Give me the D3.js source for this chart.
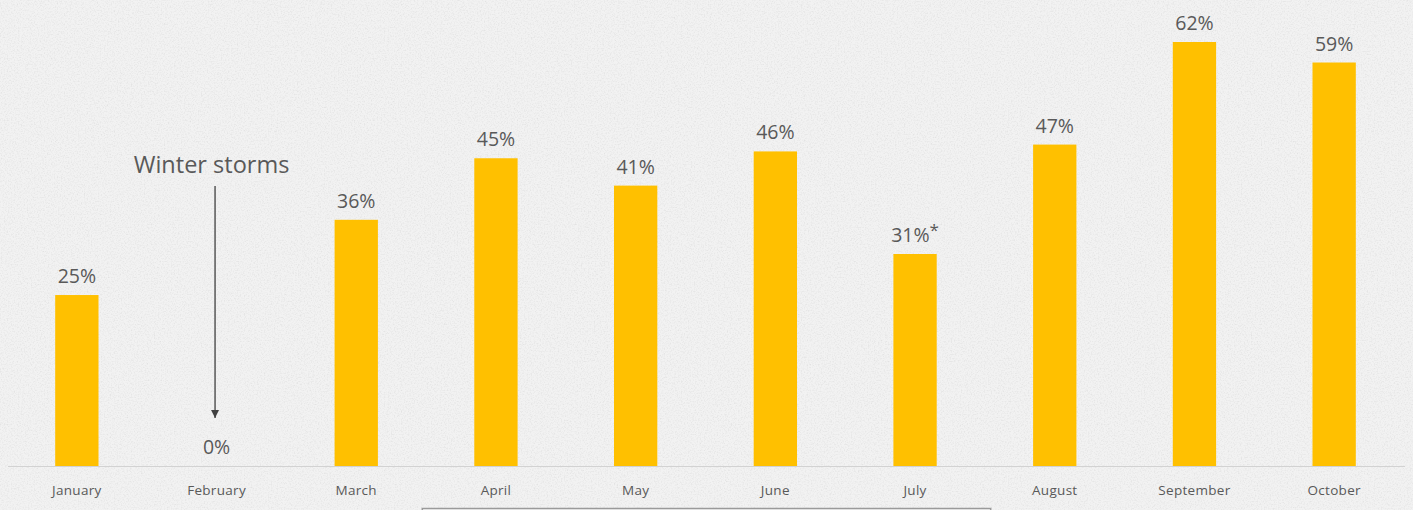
<!DOCTYPE html>
<html>
<head>
<meta charset="utf-8">
<script src="https://cdn.jsdelivr.net/npm/d3@7"></script>
<style>
  html, body { margin: 0; padding: 0; background: #efefef; }
  svg { display: block; }
  text { font-family: "Open Sans", "Noto Sans", sans-serif; fill: #595959; }
</style>
</head>
<body>
<svg id="chart" width="1413" height="510"></svg>
<script>
// Monthly share (%) by month
const months = ["January", "February", "March", "April", "May", "June", "July", "August", "September", "October"];
const values = [25, 0, 36, 45, 41, 46, 31, 47, 62, 59];
const valueLabels = ["25%", "0%", "36%", "45%", "41%", "46%", "31%", "47%", "62%", "59%"];
const footnoteMonths = ["July"];
const annotationText = "Winter storms";
const annotationMonth = "February";
const bracketMonths = ["April", "July"];

const W = 1413, H = 510;
const baseY = 466;
const svg = d3.select("#chart");

// paper-like textured background
const defs = svg.append("defs");
const f = defs.append("filter").attr("id", "paper").attr("x", 0).attr("y", 0).attr("width", "100%").attr("height", "100%");
f.append("feTurbulence").attr("type", "fractalNoise").attr("baseFrequency", 0.7).attr("numOctaves", 3).attr("seed", 5).attr("result", "noise");
f.append("feColorMatrix").attr("in", "noise").attr("type", "matrix")
  .attr("values", "0 0 0 0 0.5  0 0 0 0 0.5  0 0 0 0 0.5  0 0 0 -1.8 1.0").attr("result", "speck");
f.append("feComposite").attr("in", "speck").attr("in2", "SourceGraphic").attr("operator", "over");

svg.append("rect").attr("width", W).attr("height", H).attr("fill", "#f2f2f2");
svg.append("rect").attr("width", W).attr("height", H).attr("fill", "#f2f2f2").attr("filter", "url(#paper)").attr("opacity", 0.35);

const x = d3.scaleBand().domain(months).range([7, 1404]).paddingInner(0.69).paddingOuter(0.345);
const y = d3.scaleLinear().domain([0, 62]).range([baseY, 42]);

// bars
svg.append("g").selectAll("rect").data(months).join("rect")
  .attr("x", d => x(d))
  .attr("y", (d, i) => y(values[i]))
  .attr("width", x.bandwidth())
  .attr("height", (d, i) => baseY - y(values[i]))
  .attr("fill", "#FFC000");

// baseline
svg.append("line").attr("x1", 8).attr("x2", 1405).attr("y1", baseY + 0.5).attr("y2", baseY + 0.5)
  .attr("stroke", "#d2d2d2").attr("stroke-width", 1);

// value labels
const lbl = svg.append("g").selectAll("text").data(months).join("text")
  .attr("x", d => x(d) + x.bandwidth() / 2)
  .attr("y", (d, i) => y(values[i]) - 12)
  .attr("text-anchor", "middle")
  .attr("font-size", 19.5)
  .text((d, i) => valueLabels[i]);
lbl.filter(d => footnoteMonths.includes(d)).append("tspan")
  .attr("dy", -6).attr("font-size", 17).text("*");

// month axis labels
const axis = d3.axisBottom(x).tickSize(0).tickPadding(0);
const ax = svg.append("g").attr("transform", `translate(0,${baseY + 19})`).call(axis);
ax.select(".domain").remove();
ax.selectAll("text").attr("font-size", 13.5).attr("fill", "#595959").attr("dy", "0.71em")
  .attr("letter-spacing", 0.3)
  .style("font-family", "'Open Sans', 'Noto Sans', sans-serif");

// winter storms annotation
const ax0 = x(annotationMonth) + x.bandwidth() / 2;
svg.append("text").attr("x", ax0 - 5).attr("y", 173).attr("text-anchor", "middle")
  .attr("font-size", 23.5).text(annotationText);
defs.append("marker").attr("id", "arrow").attr("viewBox", "0 0 10 10").attr("refX", 10).attr("refY", 5)
  .attr("markerWidth", 8).attr("markerHeight", 8).attr("markerUnits", "userSpaceOnUse").attr("orient", "auto")
  .append("path").attr("d", "M0,0 L10,5 L0,10 Z").attr("fill", "#404040");
svg.append("line").attr("x1", ax0 - 1.5).attr("x2", ax0 - 1.5).attr("y1", 186).attr("y2", 418)
  .attr("stroke", "#404040").attr("stroke-width", 1.3).attr("marker-end", "url(#arrow)");

// bracket under April–July
const bx1 = x(bracketMonths[0]) - 52, bx2 = x(bracketMonths[1]) + x.bandwidth() + 54;
svg.append("rect").attr("x", bx1).attr("y", 508.5).attr("width", bx2 - bx1).attr("height", 6)
  .attr("fill", "#f6f6f6").attr("stroke", "#9a9a9a").attr("stroke-width", 1.5);
</script>
</body>
</html>
